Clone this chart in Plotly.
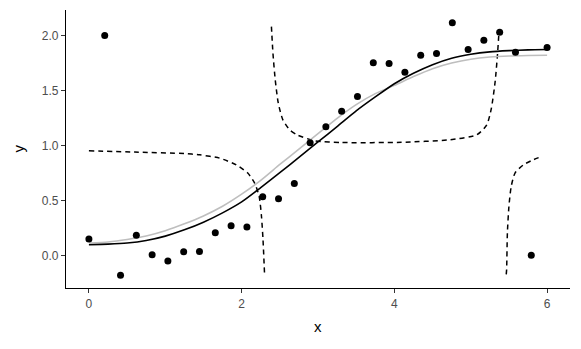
import plotly.graph_objects as go

# observed points (x = 30 evenly spaced values from 0 to 6)
pt_x = [0.0, 0.207, 0.414, 0.621, 0.828, 1.034, 1.241, 1.448, 1.655, 1.862,
        2.069, 2.276, 2.483, 2.690, 2.897, 3.103, 3.310, 3.517, 3.724, 3.931,
        4.138, 4.345, 4.552, 4.759, 4.966, 5.172, 5.379, 5.586, 5.793, 6.0]
pt_y = [0.152, 2.003, -0.179, 0.185, 0.009, -0.048, 0.036, 0.039, 0.209, 0.273,
        0.261, 0.536, 0.518, 0.657, 1.028, 1.173, 1.315, 1.448, 1.757, 1.748,
        1.670, 1.824, 1.839, 2.121, 1.876, 1.961, 2.033, 1.852, 0.003, 1.894]

# curves at 0.25 steps
curve_x = [0.0, 0.25, 0.5, 0.75, 1.0, 1.25, 1.5, 1.75, 2.0, 2.25, 2.5, 2.75, 3.0,
           3.25, 3.5, 3.75, 4.0, 4.25, 4.5, 4.75, 5.0, 5.25, 5.5, 5.75, 6.0]
fit_y = [0.100, 0.105, 0.115, 0.138, 0.178, 0.235, 0.305, 0.390, 0.490, 0.620,
         0.755, 0.895, 1.035, 1.175, 1.318, 1.445, 1.565, 1.660, 1.738, 1.797,
         1.833, 1.855, 1.866, 1.873, 1.876]
ref_y = [0.115, 0.125, 0.148, 0.180, 0.228, 0.290, 0.362, 0.450, 0.560, 0.685,
         0.830, 0.970, 1.110, 1.250, 1.375, 1.475, 1.550, 1.630, 1.702, 1.753,
         1.788, 1.808, 1.818, 1.822, 1.824]

# dashed curve, three branches separated by None
dash_x = [0.0, 0.6, 1.25, 1.45, 1.71, 1.93, 2.08, 2.17, 2.23, 2.26, 2.28, 2.30, None,
          2.39, 2.41, 2.44, 2.48, 2.54, 2.63, 2.74, 2.96, 3.31, 4.09, 4.73, 5.08, 5.21,
          5.27, 5.32, 5.35, 5.37, None,
          5.465, 5.47, 5.48, 5.50, 5.53, 5.58, 5.69, 5.82, 5.93]
dash_y = [0.955, 0.943, 0.930, 0.918, 0.888, 0.827, 0.752, 0.661, 0.539, 0.357, 0.145, -0.17, None,
          2.085, 1.843, 1.600, 1.388, 1.236, 1.145, 1.095, 1.045, 1.030, 1.032, 1.055, 1.100, 1.190,
          1.340, 1.585, 1.827, 2.035, None,
          -0.17, -0.127, 0.206, 0.448, 0.630, 0.752, 0.827, 0.873, 0.903]

fig = go.Figure()
fig.add_trace(go.Scatter(x=dash_x, y=dash_y, mode="lines", connectgaps=False,
                         line=dict(color="black", width=1.5, dash="5px,4px", shape="spline", smoothing=0.6)))
fig.add_trace(go.Scatter(x=curve_x, y=ref_y, mode="lines",
                         line=dict(color="#bebebe", width=1.6, shape="spline", smoothing=0.6)))
fig.add_trace(go.Scatter(x=curve_x, y=fit_y, mode="lines",
                         line=dict(color="black", width=1.6, shape="spline", smoothing=0.6)))
fig.add_trace(go.Scatter(x=pt_x, y=pt_y, mode="markers",
                         marker=dict(color="black", size=7)))

axis_common = dict(showgrid=False, zeroline=False, showline=True, linecolor="black", linewidth=1.2,
                   ticks="outside", ticklen=4, tickwidth=1, tickcolor="#333333", automargin=False,
                   tickfont=dict(size=12, color="#4d4d4d"))
# page body adds ~8px offset, so figure is sized to the remaining window
fig.update_layout(
    width=573, height=341,
    margin=dict(l=58, r=11, t=2, b=61),
    paper_bgcolor="white", plot_bgcolor="white",
    showlegend=False,
    font=dict(family="Liberation Sans, Arial, sans-serif"),
    xaxis=dict(range=[-0.3, 6.3], tickvals=[0, 2, 4, 6], ticktext=["0", "2", "4", "6"], **axis_common),
    yaxis=dict(range=[-0.294, 2.236], tickvals=[0, 0.5, 1, 1.5, 2],
               ticktext=["0.0", "0.5", "1.0", "1.5", "2.0"], **axis_common),
    annotations=[
        dict(text="x", xref="paper", yref="paper", x=0.5, y=-0.139, yanchor="middle",
             showarrow=False, font=dict(size=15, color="black")),
        dict(text="y", xref="paper", yref="paper", x=-0.096, y=0.5, xanchor="center",
             textangle=-90, showarrow=False, font=dict(size=15, color="black")),
    ],
)
fig.write_html("out.html")
